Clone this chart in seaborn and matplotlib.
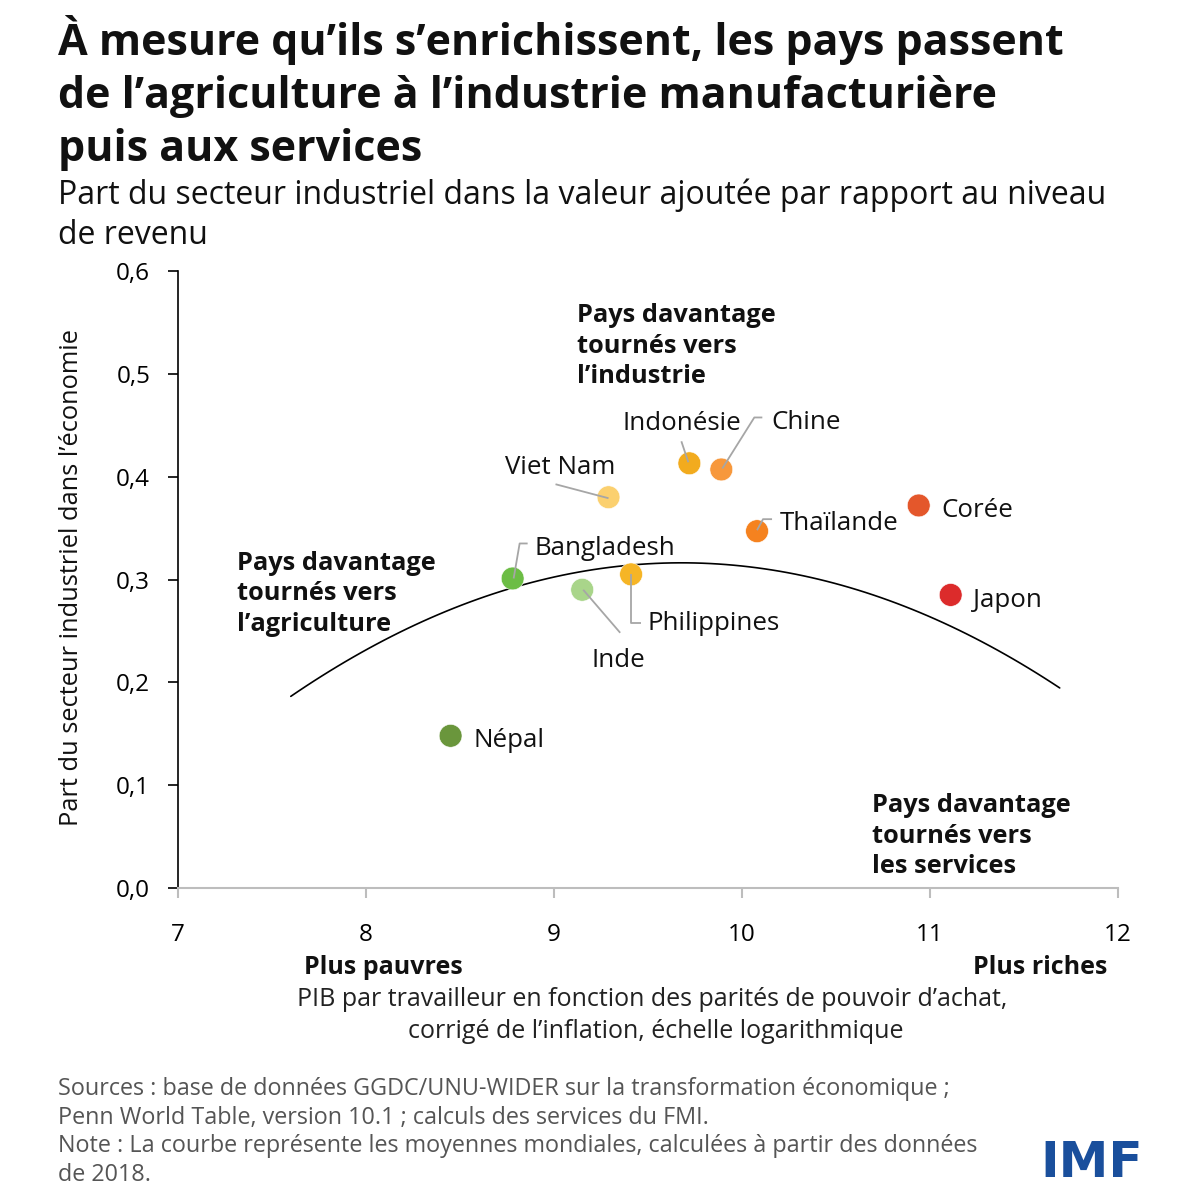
import numpy as np
import pandas as pd
import seaborn as sns
import matplotlib.pyplot as plt

# ===================== données =====================
pays = ["Népal", "Bangladesh", "Inde", "Philippines", "Viet Nam",
        "Indonésie", "Chine", "Thaïlande", "Corée", "Japon"]
pib = [8.45, 8.78, 9.15, 9.41, 9.29, 9.72, 9.89, 10.08, 10.94, 11.11]
part = [0.148, 0.301, 0.290, 0.305, 0.380, 0.413, 0.407, 0.347, 0.372, 0.285]
couleurs = ["#6a963c", "#6cbd45", "#a9d58a", "#f6b526", "#fbd06f",
            "#f2ab1e", "#f7983c", "#f5821f", "#e4572b", "#dc2b2b"]

# courbe des moyennes mondiales
courbe_x = [7.60, 8.00, 8.70, 9.20, 9.78, 10.31, 10.67, 11.14, 11.69]
courbe_y = [0.186, 0.231, 0.290, 0.309, 0.313, 0.306, 0.287, 0.251, 0.195]

x_ticks = [7, 8, 9, 10, 11, 12]
y_ticks = [0.0, 0.1, 0.2, 0.3, 0.4, 0.5, 0.6]
y_labels = ["0,0", "0,1", "0,2", "0,3", "0,4", "0,5", "0,6"]

# ===================== placement des étiquettes (pixels) =====================
# décalage de l'étiquette par rapport au point (x droite, y bas), alignement
etiquettes = {
    "Népal": (23, 2, "left"),
    "Bangladesh": (22, -33, "left"),
    "Inde": (36, 68, "center"),
    "Philippines": (16, 46, "left"),
    "Viet Nam": (-48, -33, "center"),
    "Indonésie": (-7, -43, "center"),
    "Chine": (50, -50, "left"),
    "Thaïlande": (23, -11, "left"),
    "Corée": (23, 2, "left"),
    "Japon": (22, 3, "left"),
}
# traits de rappel
rappels = {
    "Bangladesh": [(1, 0), (7, -35), (15, -35)],
    "Inde": [(1, 0), (38, 43)],
    "Philippines": [(0, 0), (0, 49), (10, 49)],
    "Viet Nam": [(0, 1), (-53, -13)],
    "Indonésie": [(-1, -1), (-8, -22)],
    "Chine": [(1, -1), (33, -52), (41, -52)],
    "Thaïlande": [(0, -1), (6, -12), (15, -12)],
}

# ===================== style =====================
sns.set_theme(style="white")
plt.rcParams['font.family'] = ['Open Sans', 'DejaVu Sans']

df = pd.DataFrame({"pays": pays, "pib": pib, "part": part})

fig = plt.figure(figsize=(12, 12), dpi=100)
ax = fig.add_axes([178 / 1200, 1 - 888 / 1200, 940 / 1200, 617 / 1200])

sns.regplot(x=courbe_x, y=courbe_y, order=2, scatter=False, ci=None,
            truncate=True, color="black", line_kws={"lw": 1.2}, ax=ax)
sns.scatterplot(data=df, x="pib", y="part", hue="pays",
                palette=dict(zip(pays, couleurs)), s=270,
                edgecolor="white", linewidth=0.4, legend=False, ax=ax, zorder=3)

ax.set_xlim(7, 12)
ax.set_ylim(0, 0.6)
ax.set_xticks(x_ticks)
ax.set_xticklabels([str(v) for v in x_ticks])
ax.set_yticks(y_ticks)
ax.set_yticklabels(y_labels)
ax.set_xlabel("")
ax.set_ylabel("")

for s in ["top", "right"]:
    ax.spines[s].set_visible(False)
ax.spines["left"].set_color("black")
ax.spines["left"].set_linewidth(1.2)
ax.spines["bottom"].set_color("#bdbdbd")
ax.spines["bottom"].set_linewidth(1.5)
ax.tick_params(axis="y", length=7, width=1.2, color="black", pad=13,
               labelsize=17.5, labelcolor="black", left=True)
ax.tick_params(axis="x", length=7, width=1.5, color="#bdbdbd", pad=18,
               labelsize=17.5, labelcolor="black", bottom=True)

# traits de rappel, en pixels autour du point
for nom, chemin in rappels.items():
    i = pays.index(nom)
    base = ax.transData.transform((pib[i], part[i]))
    pts = np.array([(base[0] + dx, base[1] - dy) for dx, dy in chemin])
    d = ax.transData.inverted().transform(pts)
    ax.plot(d[:, 0], d[:, 1], color="#a6a6a6", lw=1.3, zorder=4,
            solid_capstyle="butt")

for nom, (dx, dy, ha) in etiquettes.items():
    i = pays.index(nom)
    ax.annotate(nom, xy=(pib[i], part[i]), xytext=(dx, -dy),
                textcoords="offset pixels", ha=ha, va="center_baseline",
                fontsize=18.6, color="#111111", zorder=5)

# zones
zones = [
    ("Pays davantage\ntournés vers\nl’industrie", 9.122, 0.527),
    ("Pays davantage\ntournés vers\nl’agriculture", 7.314, 0.286),
    ("Pays davantage\ntournés vers\nles services", 10.691, 0.0505),
]
for txt, x, y in zones:
    ax.text(x, y, txt, ha="left", va="center", fontsize=18.3,
            fontweight="bold", linespacing=1.3, color="#111111")

# ===================== textes de la figure =====================
titre = ["À mesure qu’ils s’enrichissent, les pays passent",
         "de l’agriculture à l’industrie manufacturière",
         "puis aux services"]
for k, ligne in enumerate(titre):
    fig.text(58 / 1200, 1 - (55 + 53 * k) / 1200, ligne, ha="left",
             va="baseline", fontsize=31, fontweight="bold", color="#111111")

sous_titre = ["Part du secteur industriel dans la valeur ajoutée par rapport au niveau",
              "de revenu"]
for k, ligne in enumerate(sous_titre):
    fig.text(58 / 1200, 1 - (204 + 40 * k) / 1200, ligne, ha="left",
             va="baseline", fontsize=23, color="#111111")

fig.text(72 / 1200, 1 - 578 / 1200, "Part du secteur industriel dans l’économie",
         rotation=90, ha="center", va="center", fontsize=18.3, color="#111111")

fig.text(383 / 1200, 1 - 967 / 1200, "Plus pauvres", ha="center", va="center",
         fontsize=18, fontweight="bold", color="#111111")
fig.text(1107 / 1200, 1 - 967 / 1200, "Plus riches", ha="right", va="center",
         fontsize=18, fontweight="bold", color="#111111")
fig.text(652 / 1200, 1 - 1000 / 1200,
         "PIB par travailleur en fonction des parités de pouvoir d’achat,",
         ha="center", va="center", fontsize=18, color="#222222")
fig.text(656 / 1200, 1 - 1031 / 1200,
         "corrigé de l’inflation, échelle logarithmique",
         ha="center", va="center", fontsize=18, color="#222222")

notes = ["Sources : base de données GGDC/UNU-WIDER sur la transformation économique ;",
         "Penn World Table, version 10.1 ; calculs des services du FMI.",
         "Note : La courbe représente les moyennes mondiales, calculées à partir des données",
         "de 2018."]
for k, ligne in enumerate(notes):
    fig.text(58 / 1200, 1 - (1089 + 28.7 * k) / 1200, ligne, ha="left",
             va="center", fontsize=16.8, color="#555555")

fig.text(1143 / 1200, 1 - 1163 / 1200, "IMF", ha="right", va="center",
         fontsize=36, fontweight="bold", color="#1a4f9c",
         family=["DejaVu Sans"])

plt.savefig("out.png", dpi=100)
